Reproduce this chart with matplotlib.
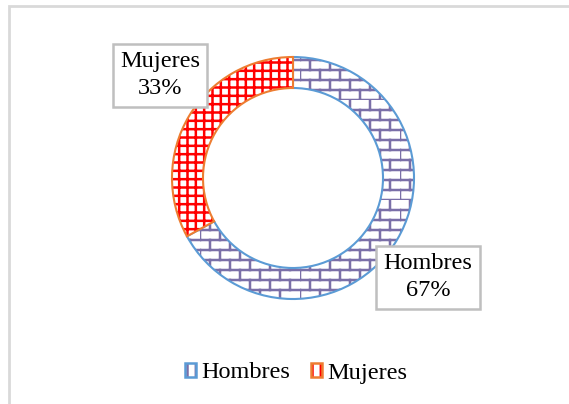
"""Donut chart: distribucion por sexo (Hombres / Mujeres)."""
import warnings

import numpy as np
import matplotlib
matplotlib.use("Agg")
import matplotlib.pyplot as plt
import matplotlib.hatch as mhatch
from matplotlib.colors import to_rgba
from matplotlib.patches import Patch, Rectangle
from matplotlib.path import Path

warnings.filterwarnings("ignore")

categories = ["Hombres", "Mujeres"]
shares = [67, 33]
label_texts = ["Hombres\n67%", "Mujeres\n33%"]

EDGE_COLORS = ["#5B9BD5", "#ED7D31"]
HATCH_COLORS = ["#7A6FA8", "#FF0000"]
HATCHES = ["b", "++"]

plt.rcParams["font.family"] = ["Liberation Serif", "DejaVu Serif"]
plt.rcParams["hatch.linewidth"] = 1.8


class BrickHatch(mhatch.HatchPatternBase):
    """Horizontal brick pattern, 10 rows x 5 bricks per hatch tile."""
    rows, cols = 10, 5

    def __init__(self, hatch, density):
        on = hatch.count("b") > 0
        self.num_vertices = (self.rows + self.rows * self.cols) * 2 if on else 0

    def set_vertices_and_codes(self, vertices, codes):
        h = 1.0 / self.rows
        w = 1.0 / self.cols
        v = []
        for r in range(self.rows):
            y = r * h
            v += [(0.0, y), (1.0, y)]
        for r in range(self.rows):
            off = 0.0 if r % 2 == 0 else w / 2
            for c in range(self.cols):
                x = off + c * w
                v += [(x, r * h), (x, (r + 1) * h)]
        vertices[:] = np.array(v)
        codes[0::2] = Path.MOVETO
        codes[1::2] = Path.LINETO


mhatch._hatch_types.append(BrickHatch)

W, H = 569, 404
fig = plt.figure(figsize=(W / 100, H / 100), dpi=100)
fig.patch.set_facecolor("white")

# light grey chart-area border (cut at right and bottom like the source)
fig.add_artist(Rectangle((8.5 / W, -0.05), 1.2, 1 - 6 / H + 0.05,
                         transform=fig.transFigure, fill=False,
                         edgecolor="#D9D9D9", linewidth=2))

ax = fig.add_axes([0, 0, 1, 1])
R = 121.0
cx, cy = 293.0, 178.0

wedges, _ = ax.pie(shares, startangle=90, counterclock=False, radius=1.0,
                   colors=["white", "white"],
                   wedgeprops=dict(width=1 - 90 / R, linewidth=1.5))
for wdg, ec, hc, hp in zip(wedges, EDGE_COLORS, HATCH_COLORS, HATCHES):
    wdg.set_edgecolor(ec)
    wdg.set_hatch(hp)
    wdg._hatch_color = to_rgba(hc)

ax.set_xlim(-cx / R, (W - cx) / R)
ax.set_ylim(-(H - cy) / R, cy / R)
ax.set_aspect("equal")
ax.axis("off")

# data labels in boxes
label_pos = [(1.115, -0.82), (-1.10, 0.85)]
for txt, (x, y) in zip(label_texts, label_pos):
    ax.text(x, y, txt, ha="center", va="center", fontsize=17.5,
            linespacing=1.4,
            bbox=dict(boxstyle="square,pad=0.3", facecolor="white",
                      edgecolor="#BFBFBF", linewidth=1.8))

handles = []
for ec, hc, hp in zip(EDGE_COLORS, HATCH_COLORS, ["||", "||"]):
    p = Patch(facecolor="white", edgecolor=ec, hatch=hp, linewidth=1.8)
    p._hatch_color = to_rgba(hc)
    handles.append(p)

fig.legend(handles, categories, loc="center", ncol=2,
           bbox_to_anchor=(0.52, 1 - 373 / H), frameon=False, fontsize=17.5,
           handlelength=0.45, handleheight=0.5, handletextpad=0.22,
           columnspacing=0.85, borderpad=0)

fig.savefig("out.png", dpi=100)
